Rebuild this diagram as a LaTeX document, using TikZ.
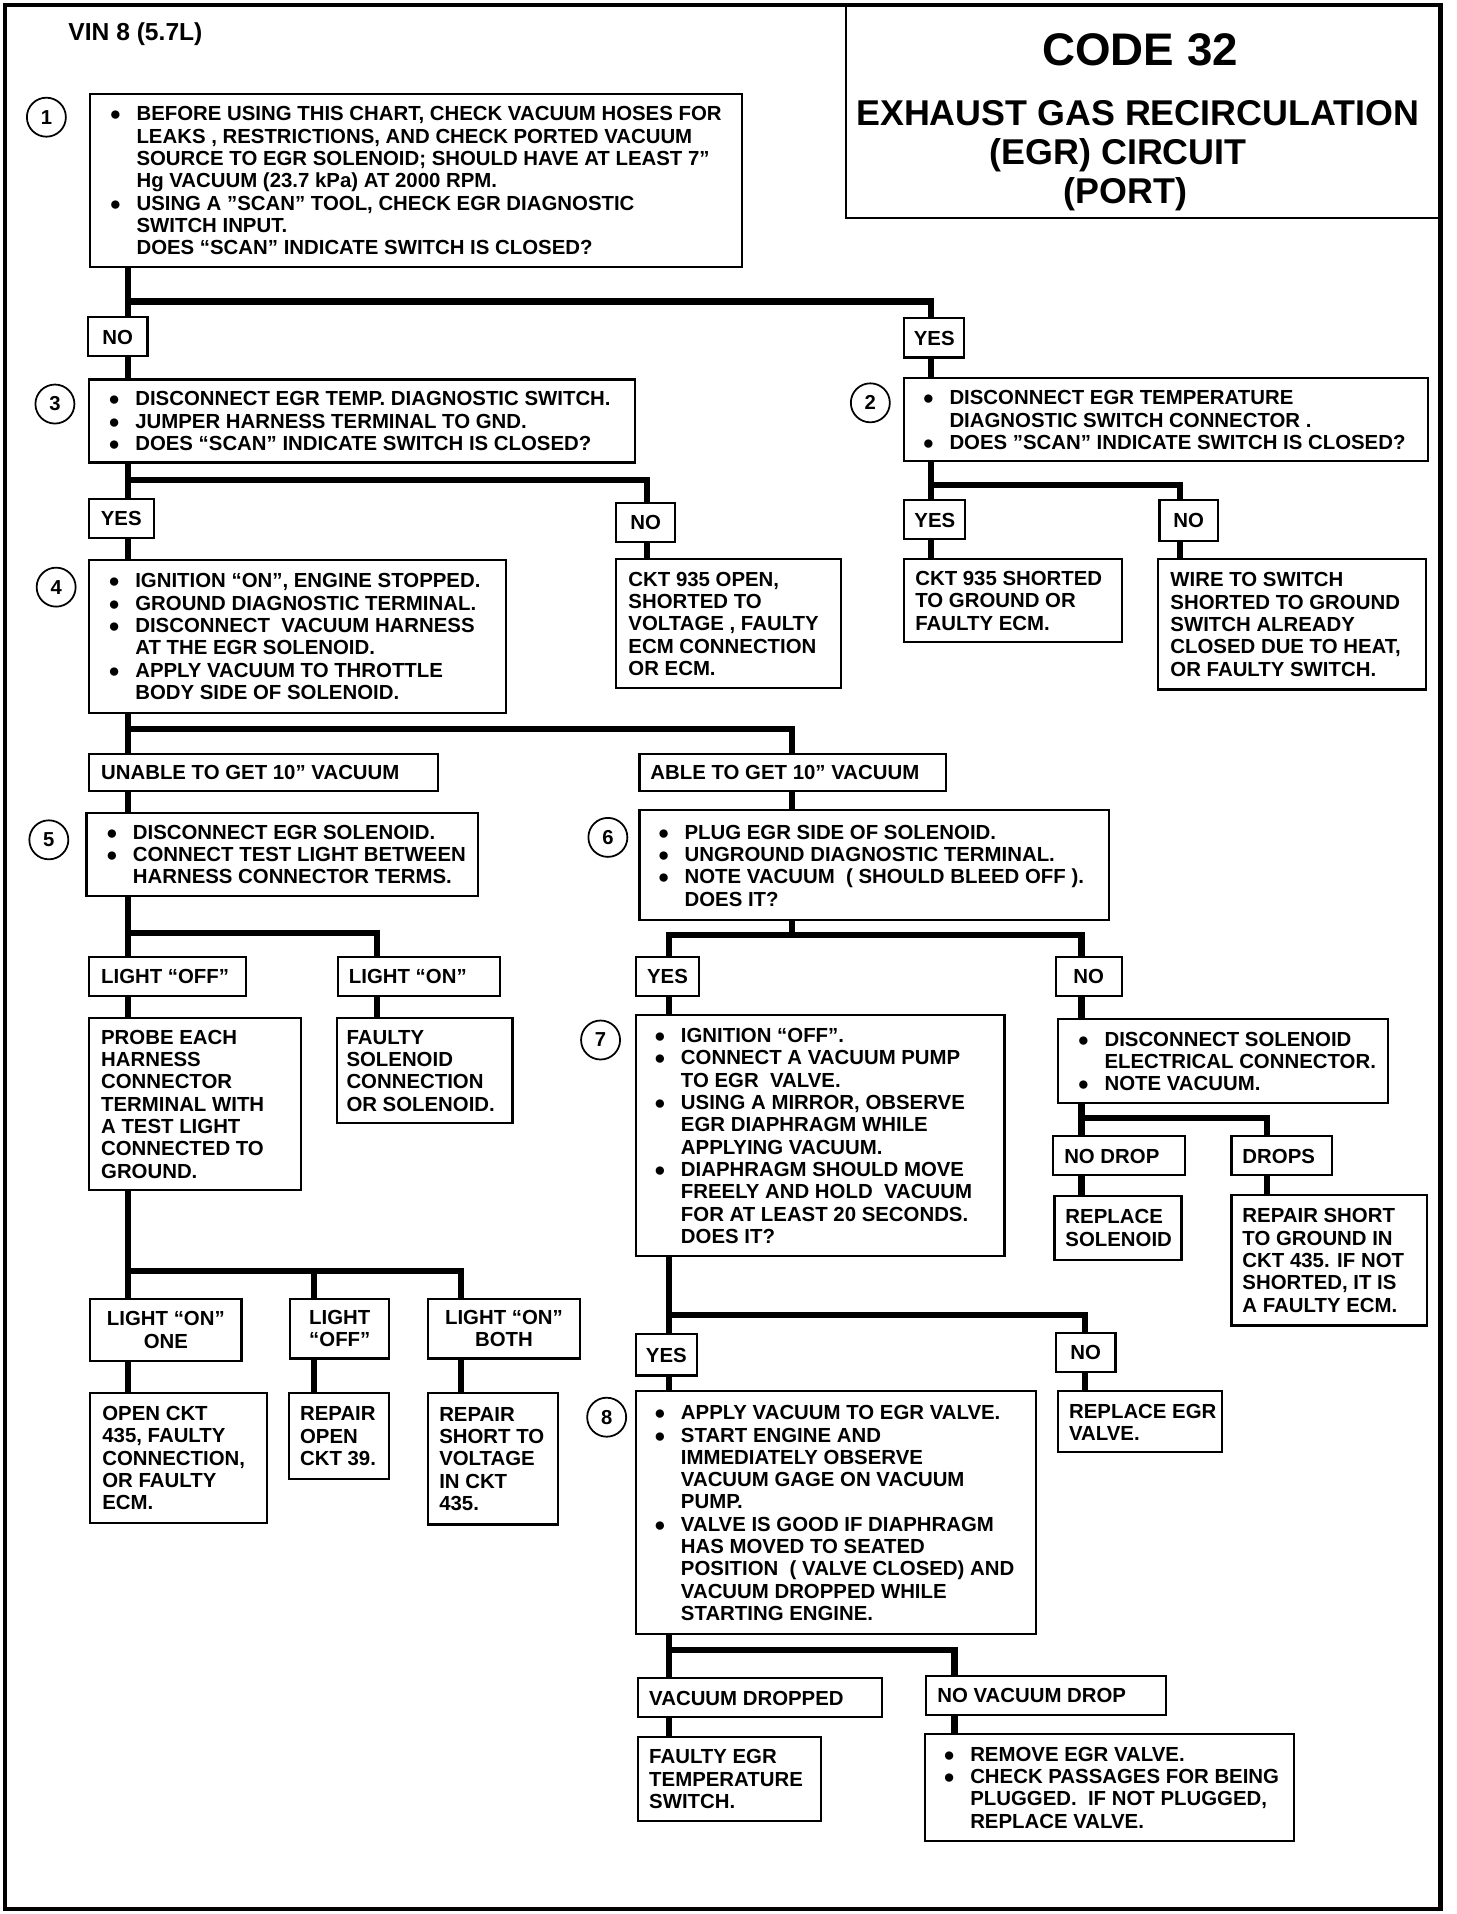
\documentclass[tikz,border=0pt]{standalone}
\usepackage{fontspec}
\setmainfont{Liberation Sans}
\usepackage{array}

% one unit = one pixel of the chart
\newcommand{\pxs}{0.02441}
\newlength{\bulw}\setlength{\bulw}{0.537cm}
\newcommand{\bu}{{\fontsize{11}{11}\selectfont ●}}
\newcommand{\blist}[1]{\begin{tabular}{@{}p{\bulw}@{}l@{}}#1\end{tabular}}
\newcommand{\plist}[1]{\begin{tabular}{@{}l@{}}#1\end{tabular}}
\newcommand{\clist}[1]{\begin{tabular}{@{}c@{}}#1\end{tabular}}
% [align]{name}{pad}{x1}{y1}{x2}{y2}{text}
\newcommand{\chartbox}[8][l]{%
  \pgfmathsetmacro{\cbw}{(#6-#4)*\pxs}%
  \pgfmathsetmacro{\cbh}{(#7-#5)*\pxs}%
  \pgfmathsetmacro{\cbt}{(#6-#4-2*#3)*\pxs}%
  \pgfmathsetmacro{\cbp}{#3*\pxs}%
  \node[box, inner xsep=\cbp cm, minimum width=\cbw cm, minimum height=\cbh cm] (#2) at (#4,#5)
    {\makebox[\cbt cm][#1]{\raisebox{-1.6pt}[\height][\depth]{#8}}};}

\begin{document}
\begin{tikzpicture}[x=0.02441cm, y=-0.02441cm,
  box/.style={draw, line width=1.2pt, anchor=north west, inner ysep=0pt,
    font=\fontsize{11.6}{12.7}\selectfont\bfseries},
  conn/.style={line width=3.5pt, line join=miter},
  stepnum/.style={circle, draw, line width=1pt, minimum size=0.78cm, inner sep=0pt,
    font=\fontsize{11.5}{12}\selectfont\bfseries},
  heading/.style={anchor=base, font=\fontsize{20.4}{24}\selectfont\bfseries}]
  \useasboundingbox (0,0) rectangle (1193,1568);

  % Frame and heading
  \draw[line width=2.6pt] (4,4) rectangle (1180,1564);
  \node[anchor=base west, font=\fontsize{14}{16}\selectfont\bfseries] (vin) at (51,33) {VIN 8 (5.7L)};
  \chartbox{title}{0}{692}{3}{1179}{178}{}
  \node[heading, font=\fontsize{26}{30}\selectfont\bfseries] (code) at (934,54) {CODE 32};
  \node[heading] (egr1) at (932,103) {EXHAUST GAS RECIRCULATION};
  \node[heading] (egr2) at (916,135) {(EGR) CIRCUIT};
  \node[heading] (egr3) at (922,167) {(PORT)};

  % Step 1
  \node[stepnum] (s1) at (38,96) {1};
  \chartbox{b1}{16}{73}{76}{607}{218}{\blist{%
    \bu & BEFORE USING THIS CHART, CHECK VACUUM HOSES FOR\\
        & LEAKS , RESTRICTIONS, AND CHECK PORTED VACUUM\\
        & SOURCE TO EGR SOLENOID; SHOULD HAVE AT LEAST 7”\\
        & Hg VACUUM (23.7 kPa) AT 2000 RPM.\\
    \bu & USING A ”SCAN” TOOL, CHECK EGR DIAGNOSTIC\\
        & SWITCH INPUT.\\
        & DOES “SCAN” INDICATE SWITCH IS CLOSED?}}
  \chartbox[c]{no1}{4}{71}{259}{120}{291}{\plist{NO}}
  \chartbox[c]{yes1}{4}{740}{260}{789}{292}{\plist{YES}}

  % Steps 3 and 2
  \node[stepnum] (s3) at (45,331) {3};
  \chartbox{b3}{16}{72}{310}{519}{378}{\blist{%
    \bu & DISCONNECT EGR TEMP. DIAGNOSTIC SWITCH.\\
    \bu & JUMPER HARNESS TERMINAL TO GND.\\
    \bu & DOES “SCAN” INDICATE SWITCH IS CLOSED?}}
  \node[stepnum] (s2) at (713,330) {2};
  \chartbox{b2}{15}{740}{309}{1169}{377}{\blist{%
    \bu & DISCONNECT EGR TEMPERATURE\\
        & DIAGNOSTIC SWITCH CONNECTOR .\\
    \bu & DOES ”SCAN” INDICATE SWITCH IS CLOSED?}}
  \chartbox[c]{yes3}{4}{72}{408}{125}{440}{\plist{YES}}
  \chartbox[c]{no3}{4}{504}{411}{552}{443}{\plist{NO}}
  \chartbox[c]{yes2}{4}{740}{409}{790}{441}{\plist{YES}}
  \chartbox[c]{no2}{4}{949}{409}{997}{442}{\plist{NO}}

  % Step 4 and results
  \node[stepnum] (s4) at (46,481) {4};
  \chartbox{b4}{16}{72}{458}{414}{583}{\blist{%
    \bu & IGNITION “ON”, ENGINE STOPPED.\\
    \bu & GROUND DIAGNOSTIC TERMINAL.\\
    \bu & DISCONNECT\ \ VACUUM HARNESS\\
        & AT THE EGR SOLENOID.\\
    \bu & APPLY VACUUM TO THROTTLE\\
        & BODY SIDE OF SOLENOID.}}
  \chartbox{ckto}{10}{504}{457}{688}{563}{\plist{%
    CKT 935 OPEN,\\ SHORTED TO\\ VOLTAGE , FAULTY\\ ECM CONNECTION\\ OR ECM.}}
  \chartbox{ckts}{9}{740}{457}{918}{525}{\plist{%
    CKT 935 SHORTED\\ TO GROUND OR\\ FAULTY ECM.}}
  \chartbox{wire}{10}{948}{457}{1167}{564}{\plist{%
    WIRE TO SWITCH\\ SHORTED TO GROUND\\ SWITCH ALREADY\\ CLOSED DUE TO HEAT,\\ OR FAULTY SWITCH.}}
  \chartbox{unable}{10}{72}{617}{358}{647}{\plist{UNABLE TO GET 10” VACUUM}}
  \chartbox{able}{9}{523}{617}{774}{647}{\plist{ABLE TO GET 10” VACUUM}}

  % Steps 5 and 6
  \node[stepnum] (s5) at (40,688) {5};
  \chartbox{b5}{16}{70}{665}{391}{733}{\blist{%
    \bu & DISCONNECT EGR SOLENOID.\\
    \bu & CONNECT TEST LIGHT BETWEEN\\
        & HARNESS CONNECTOR TERMS.}}
  \node[stepnum] (s6) at (498,686) {6};
  \chartbox{b6}{15}{523}{663}{908}{753}{\blist{%
    \bu & PLUG EGR SIDE OF SOLENOID.\\
    \bu & UNGROUND DIAGNOSTIC TERMINAL.\\
    \bu & NOTE VACUUM\ \ ( SHOULD BLEED OFF ).\\
        & DOES IT?}}
  \chartbox{loff}{10}{72}{783}{201}{815}{\plist{LIGHT “OFF”}}
  \chartbox{lon}{9}{276}{783}{409}{815}{\plist{LIGHT “ON”}}
  \chartbox{probe}{10}{72}{833}{246}{974}{\plist{%
    PROBE EACH\\ HARNESS\\ CONNECTOR\\ TERMINAL WITH\\ A TEST LIGHT\\ CONNECTED TO\\ GROUND.}}
  \chartbox{faulty}{8}{275}{833}{419}{919}{\plist{%
    FAULTY\\ SOLENOID\\ CONNECTION\\ OR SOLENOID.}}
  \chartbox[c]{yes6}{4}{520}{783}{572}{815}{\plist{YES}}
  \chartbox[c]{no6}{4}{864}{783}{918}{815}{\plist{NO}}

  % Step 7 and the solenoid check
  \node[stepnum] (s7) at (492,852) {7};
  \chartbox{b7}{15}{520}{831}{822}{1028}{\blist{%
    \bu & IGNITION “OFF”.\\
    \bu & CONNECT A VACUUM PUMP\\
        & TO EGR\ \ VALVE.\\
    \bu & USING A MIRROR, OBSERVE\\
        & EGR DIAPHRAGM WHILE\\
        & APPLYING VACUUM.\\
    \bu & DIAPHRAGM SHOULD MOVE\\
        & FREELY AND HOLD\ \ VACUUM\\
        & FOR AT LEAST 20 SECONDS.\\
        & DOES IT?}}
  \chartbox{disc}{16}{866}{834}{1136}{903}{\blist{%
    \bu & DISCONNECT SOLENOID\\
        & ELECTRICAL CONNECTOR.\\
    \bu & NOTE VACUUM.}}
  \chartbox{nodrop}{9}{862}{930}{970}{962}{\plist{NO DROP}}
  \chartbox{drops}{9}{1008}{930}{1090}{962}{\plist{DROPS}}
  \chartbox{replsol}{9}{863}{979}{967}{1031}{\plist{REPLACE\\ SOLENOID}}
  \chartbox{repair}{9}{1008}{978}{1168}{1085}{\plist{%
    REPAIR SHORT\\ TO GROUND IN\\ CKT 435. IF NOT\\ SHORTED, IT IS\\ A FAULTY ECM.}}

  % Test light results
  \chartbox[c]{lon1}{4}{73}{1063}{197}{1114}{\clist{LIGHT “ON”\\ ONE}}
  \chartbox[c]{loff2}{4}{237}{1063}{318}{1112}{\clist{LIGHT\\ “OFF”}}
  \chartbox[c]{lon2}{4}{350}{1063}{474}{1112}{\clist{LIGHT “ON”\\ BOTH}}
  \chartbox{openckt}{10}{73}{1140}{218}{1247}{\plist{%
    OPEN CKT\\ 435, FAULTY\\ CONNECTION,\\ OR FAULTY\\ ECM.}}
  \chartbox{repopen}{9}{236}{1140}{318}{1211}{\plist{REPAIR\\ OPEN\\ CKT 39.}}
  \chartbox{repshort}{9}{350}{1140}{456}{1248}{\plist{%
    REPAIR\\ SHORT TO\\ VOLTAGE\\ IN CKT\\ 435.}}

  % Step 8
  \chartbox[c]{yes7}{4}{520}{1092}{570}{1126}{\plist{YES}}
  \chartbox[c]{no7}{4}{864}{1091}{913}{1123}{\plist{NO}}
  \node[stepnum] (s8) at (497,1161) {8};
  \chartbox{b8}{15}{520}{1139}{848}{1338}{\blist{%
    \bu & APPLY VACUUM TO EGR VALVE.\\
    \bu & START ENGINE AND\\
        & IMMEDIATELY OBSERVE\\
        & VACUUM GAGE ON VACUUM\\
        & PUMP.\\
    \bu & VALVE IS GOOD IF DIAPHRAGM\\
        & HAS MOVED TO SEATED\\
        & POSITION\ \ ( VALVE CLOSED) AND\\
        & VACUUM DROPPED WHILE\\
        & STARTING ENGINE.}}
  \chartbox{replegr}{9}{866}{1139}{1000}{1189}{\plist{REPLACE EGR\\ VALVE.}}
  \chartbox{vdrop}{9}{522}{1374}{722}{1406}{\plist{VACUUM DROPPED}}
  \chartbox{novdrop}{9}{758}{1372}{954}{1404}{\plist{NO VACUUM DROP}}
  \chartbox{faultyegr}{9}{522}{1422}{672}{1491}{\plist{%
    FAULTY EGR\\ TEMPERATURE\\ SWITCH.}}
  \chartbox{remove}{15}{757}{1420}{1059}{1507}{\blist{%
    \bu & REMOVE EGR VALVE.\\
    \bu & CHECK PASSAGES FOR BEING\\
        & PLUGGED.\ \ IF NOT PLUGGED,\\
        & REPLACE VALVE.}}

  % Branch points
  \coordinate (j1) at (105,247);  \coordinate (j1r) at (763,247);
  \coordinate (j3) at (105,393);  \coordinate (j3r) at (530,393);
  \coordinate (j2) at (763,397);  \coordinate (j2r) at (967,397);
  \coordinate (j4) at (105,597);  \coordinate (j4r) at (649,597);
  \coordinate (j5) at (105,764);  \coordinate (j5r) at (309,764);
  \coordinate (j6) at (649,766);  \coordinate (j6l) at (548,766);  \coordinate (j6r) at (886,766);
  \coordinate (jd) at (886,916);  \coordinate (jdr) at (1038,916);
  \coordinate (jp) at (105,1041); \coordinate (jpm) at (257,1041); \coordinate (jpr) at (378,1041);
  \coordinate (j7) at (548,1077); \coordinate (j7r) at (889,1077);
  \coordinate (j8) at (548,1352); \coordinate (j8r) at (782,1352);

  % Connectors
  \draw[conn] (j1 |- b1.south) -- (j1 |- no1.north);
  \draw[conn] (j1) -- (j1r) -- (j1r |- yes1.north);
  \draw[conn] (j3 |- b3.south) -- (j3 |- yes3.north);
  \draw[conn] (j3) -- (j3r) -- (j3r |- no3.north);
  \draw[conn] (j2 |- b2.south) -- (j2 |- yes2.north);
  \draw[conn] (j2) -- (j2r) -- (j2r |- no2.north);
  \draw[conn] (j4 |- b4.south) -- (j4 |- unable.north);
  \draw[conn] (j4) -- (j4r) -- (j4r |- able.north);
  \draw[conn] (j5 |- b5.south) -- (j5 |- loff.north);
  \draw[conn] (j5) -- (j5r) -- (j5r |- lon.north);
  \draw[conn] (j6 |- b6.south) -- (j6);
  \draw[conn] (j6l |- yes6.north) -- (j6l) -- (j6r) -- (j6r |- no6.north);
  \draw[conn] (jd |- disc.south) -- (jd |- nodrop.north);
  \draw[conn] (jd) -- (jdr) -- (jdr |- drops.north);
  \draw[conn] (jp |- probe.south) -- (jp |- lon1.north);
  \draw[conn] (jp) -- (jpr) -- (jpr |- lon2.north);
  \draw[conn] (jpm) -- (jpm |- loff2.north);
  \draw[conn] (j7 |- b7.south) -- (j7 |- yes7.north);
  \draw[conn] (j7) -- (j7r) -- (j7r |- no7.north);
  \draw[conn] (j8 |- b8.south) -- (j8 |- vdrop.north);
  \draw[conn] (j8) -- (j8r) -- (j8r |- novdrop.north);
  \foreach \j/\a/\b in {j1/no1/b3, j1r/yes1/b2, j3/yes3/b4, j3r/no3/ckto,
      j2/yes2/ckts, j2r/no2/wire, j4/unable/b5, j4r/able/b6,
      j5/loff/probe, j5r/lon/faulty, j6l/yes6/b7, j6r/no6/disc,
      jd/nodrop/replsol, jdr/drops/repair, jp/lon1/openckt, jpm/loff2/repopen,
      jpr/lon2/repshort, j7/yes7/b8, j7r/no7/replegr, j8/vdrop/faultyegr, j8r/novdrop/remove}
    \draw[conn] (\j |- \a.south) -- (\j |- \b.north);
\end{tikzpicture}
\end{document}
